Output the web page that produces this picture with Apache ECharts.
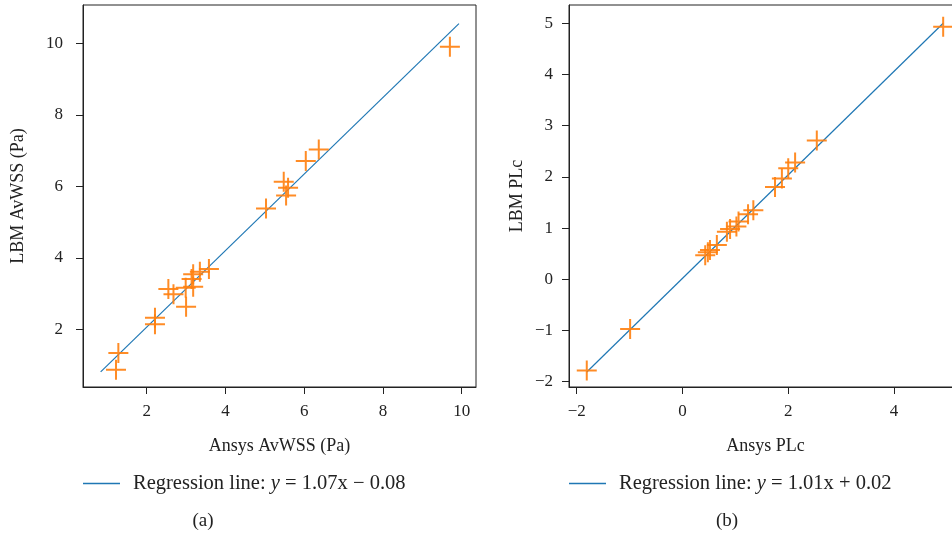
<!DOCTYPE html>
<html>
<head>
<meta charset="utf-8">
<script src="https://cdn.jsdelivr.net/npm/echarts@6/dist/echarts.min.js"></script>
<style>
html,body{margin:0;padding:0;background:#fff;}
#chart{width:952px;height:537px;}
</style>
</head>
<body>
<div id="chart"></div>
<script>
// ---- data ----
const ansysWSS = [9.70, 6.37, 6.04, 5.48, 5.59, 5.54, 5.03, 3.58, 3.35, 3.18, 3.14, 3.18, 2.99, 2.55, 2.68, 3.00, 2.21, 2.21, 1.28, 1.22];
const lbmWSS   = [9.90, 7.03, 6.71, 6.13, 5.96, 5.74, 5.38, 3.69, 3.61, 3.54, 3.41, 3.19, 3.16, 3.13, 2.98, 2.63, 2.32, 2.14, 1.34, 0.87];
const regLineA = [[0.83, 0.81], [9.93, 10.55]];

const ansysPLc = [4.93, 2.54, 2.13, 2.00, 1.88, 1.75, 1.34, 1.24, 1.06, 1.02, 0.90, 0.84, 0.65, 0.52, 0.48, 0.43, -0.99, -1.81];
const lbmPLc   = [4.93, 2.71, 2.28, 2.17, 1.97, 1.80, 1.35, 1.27, 1.13, 1.03, 0.98, 0.93, 0.67, 0.57, 0.53, 0.47, -0.97, -1.78];
const regLineB = [[-1.81, -1.81], [4.93, 5.00]];

const xTicksA = [2, 4, 6, 8, 10];
const yTicksA = [2, 4, 6, 8, 10];
const xTicksB = [-2, 0, 2, 4];
const yTicksB = [-2, -1, 0, 1, 2, 3, 4, 5];

const nameA = 'Regression line: y = 1.07x \u2212 0.08';
const nameB = 'Regression line: y = 1.01x + 0.02';

// ---- styling ----
const FONT = '"Liberation Serif", "DejaVu Serif", serif';
const TXT = '#222';
const AX = '#222';
const ORANGE = '#ff7f0e';
const BLUE = '#1f77b4';
const PLUS = 'path://M-10,-1L10,-1L10,1L-10,1ZM-1,-10L1,-10L1,10L-1,10Z';

const fmt = v => String(v).replace('-', '\u2212');

function valueAxis(extra, ticks, min, max, margin) {
  return Object.assign({
    type: 'value', min: min, max: max,
    splitLine: {show: false},
    axisLine: {show: true, onZero: false, lineStyle: {color: AX, width: 1}},
    axisTick: {show: true, length: 7, customValues: ticks, lineStyle: {color: AX, width: 1}},
    axisLabel: {customValues: ticks, formatter: fmt, color: TXT, fontFamily: FONT, fontSize: 17, margin: margin},
    nameLocation: 'middle',
    nameTextStyle: {color: TXT, fontFamily: FONT, fontSize: 18}
  }, extra);
}

const zip = (a, b) => a.map((v, i) => [v, b[i]]);

function legendFor(name, left, text) {
  return {
    data: [name], left: left, top: 473, padding: 0, icon: 'rect', itemWidth: 37, itemHeight: 1.4,
    selectedMode: false,
    formatter: () => text,
    textStyle: {color: TXT, fontFamily: FONT, fontSize: 20.5, padding: [0, 0, 0, 8],
      rich: {i: {fontStyle: 'italic', fontFamily: FONT, fontSize: 20.5, color: TXT}}}
  };
}

const chart = echarts.init(document.getElementById('chart'), null, {renderer: 'canvas'});
chart.setOption({
  animation: false,
  backgroundColor: '#fff',
  grid: [
    {left: 83, top: 5, right: 476, bottom: 150, show: true, borderColor: AX, borderWidth: 1, containLabel: false, outerBoundsMode: 'none'},
    {left: 569, top: 5, right: -10, bottom: 150, show: true, borderColor: AX, borderWidth: 1, containLabel: false, outerBoundsMode: 'none'}
  ],
  xAxis: [
    valueAxis({gridIndex: 0, name: 'Ansys AvWSS (Pa)', nameGap: 50}, xTicksA, 0.382, 10.363, 16),
    valueAxis({gridIndex: 1, name: 'Ansys PLc', nameGap: 50}, xTicksB, -2.146, 5.286, 16)
  ],
  yAxis: [
    valueAxis({gridIndex: 0, name: 'LBM AvWSS (Pa)', nameGap: 56}, yTicksA, 0.386, 11.071, 20),
    valueAxis({gridIndex: 1, name: 'LBM PLc', nameGap: 43}, yTicksB, -2.104, 5.357, 16)
  ],
  legend: [
    legendFor(nameA, 83, 'Regression line: {i|y} = 1.07x \u2212 0.08'),
    legendFor(nameB, 569, 'Regression line: {i|y} = 1.01x + 0.02')
  ],
  graphic: [
    {type: 'text', x: 203, y: 521, style: {text: '(a)', x: 0, y: 0, align: 'center', verticalAlign: 'middle', fill: TXT, font: '19px ' + FONT}},
    {type: 'text', x: 727, y: 521, style: {text: '(b)', x: 0, y: 0, align: 'center', verticalAlign: 'middle', fill: TXT, font: '19px ' + FONT}}
  ],
  series: [
    {name: nameA, type: 'line', xAxisIndex: 0, yAxisIndex: 0, data: regLineA, showSymbol: false, symbol: 'none',
      lineStyle: {color: BLUE, width: 1.2}, itemStyle: {color: BLUE}, z: 2},
    {name: 'AvWSS', type: 'scatter', xAxisIndex: 0, yAxisIndex: 0, data: zip(ansysWSS, lbmWSS),
      symbol: PLUS, symbolSize: 20, itemStyle: {color: ORANGE, opacity: 0.9}, z: 3},
    {name: nameB, type: 'line', xAxisIndex: 1, yAxisIndex: 1, data: regLineB, showSymbol: false, symbol: 'none',
      lineStyle: {color: BLUE, width: 1.2}, itemStyle: {color: BLUE}, z: 2},
    {name: 'PLc', type: 'scatter', xAxisIndex: 1, yAxisIndex: 1, data: zip(ansysPLc, lbmPLc),
      symbol: PLUS, symbolSize: 20, itemStyle: {color: ORANGE, opacity: 0.9}, z: 3}
  ]
});
</script>
</body>
</html>
